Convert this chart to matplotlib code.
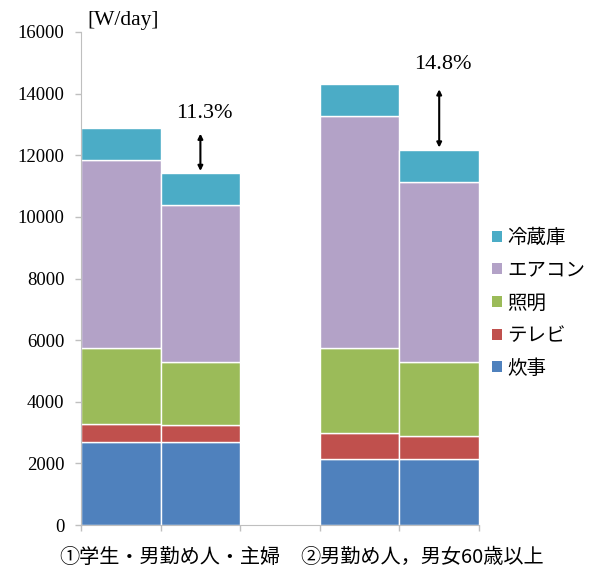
import matplotlib
matplotlib.use("Agg")
import matplotlib.pyplot as plt
from matplotlib.patches import Patch

plt.rcParams['font.family'] = ['Liberation Serif', 'Noto Sans CJK JP', 'DejaVu Sans']

# Data (W/day), bottom to top
series_names = ['炊事', 'テレビ', '照明', 'エアコン', '冷蔵庫']
cooking = [2700, 2700, 2140, 2140]
tv = [590, 530, 850, 740]
lighting = [2470, 2060, 2750, 2400]
aircon = [6090, 5100, 7550, 5860]
fridge = [1020, 1020, 1020, 1030]
bar_pos = [0, 1, 3, 4]
group_labels = ['①学生・男勤め人・主婦', '②男勤め人，男女60歳以上']
pct_labels = ['11.3%', '14.8%']
colors = ['#4F81BD', '#C0504D', '#9BBB59', '#B3A2C7', '#4BACC6']

fig = plt.figure(figsize=(5.97, 5.71), dpi=100)
ax = fig.add_axes([81/597, 1-525/571, (479-81)/597, (525-32)/571])

series = [cooking, tv, lighting, aircon, fridge]
bottoms = [0, 0, 0, 0]
for vals, c, name in zip(series, colors, series_names):
    ax.bar(bar_pos, vals, width=1.0, bottom=bottoms, color=c,
           edgecolor='white', linewidth=1.0, label=name)
    bottoms = [b + v for b, v in zip(bottoms, vals)]
totals = bottoms

ax.set_xlim(-0.5, 4.5)
ax.set_ylim(0, 16000)
ax.set_yticks(range(0, 16001, 2000))
ax.set_yticklabels([str(v) for v in range(0, 16001, 2000)], fontsize=13.5)
ax.set_xticks([-0.5, 0.5, 1.5, 2.5, 3.5, 4.5])
ax.set_xticklabels([])
for s in ['top', 'right']:
    ax.spines[s].set_visible(False)
for s in ['left', 'bottom']:
    ax.spines[s].set_color('#BFBFBF')
ax.tick_params(axis='both', color='#BFBFBF', length=4, width=1)
ax.tick_params(axis='y', pad=8)

# group labels
ax.text(0.62, -0.066, group_labels[0], transform=ax.get_xaxis_transform(),
        ha='center', va='center', fontsize=14.5,
        family=['Noto Sans CJK JP', 'DejaVu Sans'])
ax.text(3.78, -0.066, group_labels[1], transform=ax.get_xaxis_transform(),
        ha='center', va='center', fontsize=14.5,
        family=['Noto Sans CJK JP', 'DejaVu Sans'])

# arrows and percentages
pairs = [(0, 1), (2, 3)]
offsets = [500, 620]
for (i, j), lab, off in zip(pairs, pct_labels, offsets):
    x = bar_pos[j]
    ax.annotate('', xy=(x, totals[j] + 80), xytext=(x, totals[i] - 170),
                arrowprops=dict(arrowstyle='<|-|>', color='black', lw=1.5,
                                mutation_scale=7, shrinkA=0, shrinkB=0))
    ax.text(x + 0.05, totals[i] + off, lab,
            ha='center', va='center', fontsize=16)

fig.text(87/597, 1-20/571, '[W/day]', ha='left', va='center', fontsize=15.5)

handles = [Patch(facecolor=c, edgecolor='none') for c in colors][::-1]
fig.legend(handles, series_names[::-1], loc='upper left',
           bbox_to_anchor=(492/597, 1-227/571), frameon=False,
           borderpad=0, borderaxespad=0, handlelength=0.5, handleheight=0.5,
           handletextpad=0.3, labelspacing=0.6,
           prop=dict(family=['Noto Sans CJK JP', 'DejaVu Sans'], size=14))

fig.savefig('out.png', dpi=100)
